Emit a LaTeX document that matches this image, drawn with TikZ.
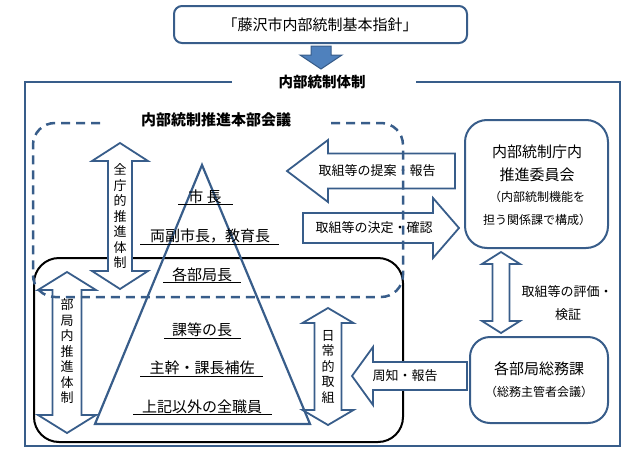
\documentclass[tikz,border=0pt]{standalone}
\usepackage{fontspec}
\setmainfont{Noto Sans CJK JP}
\usetikzlibrary{calc}

\definecolor{frameblue}{RGB}{56,93,138}
\definecolor{arrowblue}{RGB}{79,129,189}

\tikzset{
	blueline/.style={draw=frameblue, line width=2.2pt},
	blockarrow/.style={draw=frameblue, line width=1.8pt, fill=white, line join=miter},
	roundbox/.style={draw=frameblue, line width=2pt, rounded corners=#1},
	jtext/.style={inner sep=0pt, font=\fontsize{13}{15}\selectfont},
	jbig/.style={inner sep=0pt, font=\fontsize{15}{17}\selectfont},
	jsmall/.style={inner sep=0pt, font=\fontsize{12}{14}\selectfont},
	vtext/.style={inner sep=0pt, align=center, font=\fontsize{13}{15.5}\selectfont},
	uline/.style={draw=black, line width=1pt}
}

% vertical block arrow with two heads: x, top, bottom, shaft half, head half, head length
\newcommand{\vdblarrow}[6]{%
	\draw[blockarrow] (#1,#2) -- (#1+#5,#2+#6) -- (#1+#4,#2+#6) -- (#1+#4,#3-#6) -- (#1+#5,#3-#6) -- (#1,#3)
	-- (#1-#5,#3-#6) -- (#1-#4,#3-#6) -- (#1-#4,#2+#6) -- (#1-#5,#2+#6) -- cycle;}

\begin{document}
\begin{tikzpicture}[x=1pt, y=-1pt]
	
	\useasboundingbox (0,0) rectangle (640,466);
	
	% top policy box
	\draw[roundbox=8pt] (174,6) rectangle (467,43);
	\node[jbig] (shishin) at (320,24.5) {「藤沢市内部統制基本指針」};
	
	\draw[draw=frameblue, line width=1pt, fill=arrowblue] (311,46) -- (331,46) -- (331,55) -- (342,55) -- (321,69) -- (300,55) -- (311,55) -- cycle;
	
	% outer frame
	\node[inner sep=0pt, font=\fontsize{14.5}{16}\selectfont\bfseries] (taisei) at (322,82) {内部統制体制};
	\draw[blueline] (232,82) -- (25,82) -- (25,446) -- (620,446) -- (620,82) -- (416,82);
	
	% black rounded region
	\draw[black, line width=2pt, rounded corners=25pt] (34,258) rectangle (403,442);
	
	% block arrows
	\vdblarrow{120}{143}{289}{12}{28}{18}
	\vdblarrow{67}{272}{433}{14.5}{29}{18}
	\vdblarrow{328}{308}{425}{13.5}{25.5}{15}
	\vdblarrow{501}{252}{333}{8.5}{19}{12}
	
	\draw[blockarrow] (287,171) -- (328,140) -- (328,153.5) -- (455,153.5) -- (455,188.5) -- (328,188.5) -- (328,202) -- cycle;
	\draw[blockarrow] (459,228) -- (433,198) -- (433,213) -- (303,213) -- (303,243) -- (433,243) -- (433,258) -- cycle;
	\draw[blockarrow] (352,376) -- (373,347) -- (373,362) -- (467,362) -- (467,390) -- (373,390) -- (373,405) -- cycle;
	
	\node[jtext] (teian) at (377,171) {取組等の提案・報告};
	\node[jtext] (kettei) at (374,228) {取組等の決定・確認};
	\node[jtext] (shuchi) at (405,376) {周知・報告};
	
	\node[vtext] (zencho) at (120,216.5) {全\\庁\\的\\推\\進\\体\\制};
	\node[vtext] (bukyoku) at (67,351.5) {部\\局\\内\\推\\進\\体\\制};
	\node[vtext] (nichijo) at (328,367) {日\\常\\的\\取\\組};
	
	% pyramid
	\draw[blueline, line join=miter] (202,165) -- (310,424) -- (95,424) -- cycle;
	
	\node[jbig] (shicho) at (205,197) {市\ 長};
	\draw[uline] (178,204) -- (233,204);
	\node[jbig] (fuku) at (210,236) {両副市長，教育長};
	\draw[uline] (140,244) -- (279,244);
	\node[jbig] (buchou) at (202,275) {各部局長};
	\draw[uline] (163,282) -- (241,282);
	\node[jbig] (kachou) at (202,330) {課等の長};
	\draw[uline] (164,338) -- (241,338);
	\node[jbig] (shukan) at (202,368) {主幹・課長補佐};
	\draw[uline] (140,376) -- (263,376);
	\node[jbig] (zenshoku) at (202,407) {上記以外の全職員};
	\draw[uline] (133,414) -- (272,414);
	
	% headquarters meeting
	\node[inner sep=0pt, font=\fontsize{15}{17}\selectfont\bfseries] (honbu) at (216,120) {内部統制推進本部会議};
	\draw[draw=frameblue, line width=2.5pt, dash pattern=on 9pt off 6pt, rounded corners=22pt] (100,123) -- (33,123) -- (33,297) -- (403,297) -- (403,123) -- (330,123);
	
	% right boxes
	\draw[roundbox=22pt] (465,120) rectangle (608,248);
	\node[jbig] (iin1) at (537,152) {内部統制庁内};
	\node[jbig] (iin2) at (537,175) {推進委員会};
	\node[jsmall] (iin3) at (537,197) {（内部統制機能を};
	\node[jsmall] (iin4) at (537,220) {担う関係課で構成）};
	
	\node[jtext] (hyoka1) at (567,292) {取組等の評価・};
	\node[jtext] (hyoka2) at (568,315) {検証};
	
	\draw[roundbox=20pt] (470,337) rectangle (608,423);
	\node[jbig] (somu1) at (539,369) {各部局総務課};
	\node[jsmall] (somu2) at (539,392) {（総務主管者会議）};
	
\end{tikzpicture}
\end{document}
